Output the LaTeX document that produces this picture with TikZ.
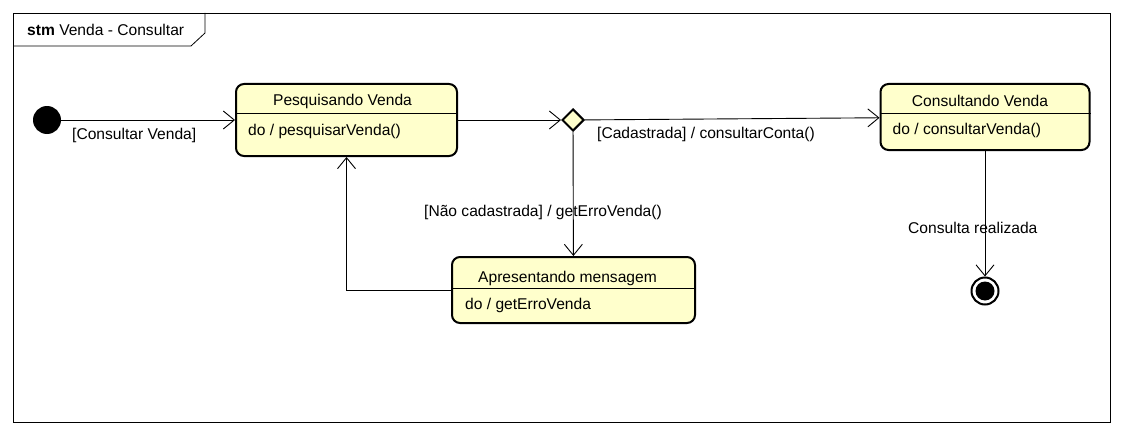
\documentclass[tikz,border=0pt]{standalone}
\usepackage{fontspec}
\setmainfont{Liberation Sans}
\usetikzlibrary{arrows.meta, shapes.geometric, positioning}
\definecolor{statefill}{HTML}{FFFFCC}
\tikzstyle{statebox} = [rectangle, rounded corners=8pt, draw=black, line width=2pt, fill=statefill, inner sep=0pt]
\tikzstyle{divider} = [line width=0.8pt]
\tikzstyle{arrow} = [line width=0.9pt, -{Straight Barb[length=11pt,width=18pt]}]
\tikzstyle{lbl} = [inner sep=0pt]

\begin{document}
\begin{tikzpicture}[x=1pt, y=-1pt, font=\fontsize{15.6}{18}\selectfont]
		\useasboundingbox (0,0) rectangle (1122,436);
		% frame
		\draw[line width=0.8pt] (13,13) rectangle (1110,422);
		\draw[line width=0.8pt] (13,46) -- (191,46) -- (205,33) -- (205,13);
		\node[lbl, anchor=base west] (title) at (27,36) {\textbf{stm} Venda - Consultar};

		% states
		\node[circle, fill=black, minimum size=28pt, inner sep=0pt] (start) at (47,120) {};
		\node[statebox, minimum width=221pt, minimum height=72pt] (pesq) at (346.5,120) {};
		\node[diamond, draw=black, line width=2pt, fill=statefill, minimum width=22pt, minimum height=22pt, inner sep=0pt] (choice) at (573,120) {};
		\node[statebox, minimum width=209pt, minimum height=66pt] (consult) at (985,117) {};
		\node[statebox, minimum width=243pt, minimum height=66pt] (msg) at (573.5,290) {};
		\node[circle, draw=black, line width=2pt, minimum size=27pt, inner sep=0pt] (final) at (985,291) {};
		\node[circle, fill=black, minimum size=19pt, inner sep=0pt] (finaldot) at (final) {};

		% compartments
		\draw[divider] ([yshift=-30pt]pesq.north west) -- ([yshift=-30pt]pesq.north east);
		\draw[divider] ([yshift=-30pt]consult.north west) -- ([yshift=-30pt]consult.north east);
		\draw[divider] ([yshift=-32pt]msg.north west) -- ([yshift=-32pt]msg.north east);
		\node[lbl, anchor=base] (pesqname) at ([xshift=-4pt, yshift=-22.5pt]pesq.north) {Pesquisando Venda};
		\node[lbl, anchor=base west] (pesqdo) at ([xshift=13pt, yshift=-52pt]pesq.north west) {do / pesquisarVenda()};
		\node[lbl, anchor=base] (consultname) at ([xshift=-5pt, yshift=-23.5pt]consult.north) {Consultando Venda};
		\node[lbl, anchor=base west] (consultdo) at ([xshift=13pt, yshift=-51pt]consult.north west) {do / consultarVenda()};
		\node[lbl, anchor=base] (msgname) at ([xshift=-6pt, yshift=-26pt]msg.north) {Apresentando mensagem};
		\node[lbl, anchor=base west] (msgdo) at ([xshift=14pt, yshift=-53pt]msg.north west) {do / getErroVenda};

		% transitions
		\draw[arrow] (start) -- (pesq);
		\draw[arrow] (pesq) -- (choice);
		\draw[arrow] (choice) -- (consult);
		\draw[arrow] (choice) -- (msg);
		\draw[arrow] (msg.west) -| (pesq);
		\draw[arrow] (consult) -- (final);
		\node[lbl, anchor=base west] (lblconsultar) at (72,139) {[Consultar Venda]};
		\node[lbl, anchor=base west] (lblcadastrada) at (597,138) {[Cadastrada] / consultarConta()};
		\node[lbl, anchor=base west] (lblnao) at (424,216) {[Não cadastrada] / getErroVenda()};
		\node[lbl, anchor=base west] (lblrealizada) at (908,233) {Consulta realizada};
	\end{tikzpicture}
\end{document}
